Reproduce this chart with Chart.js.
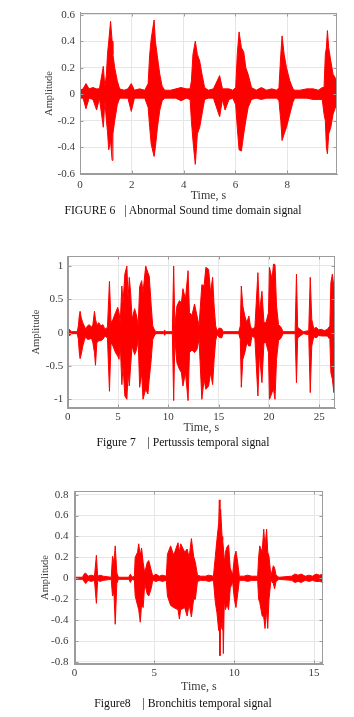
<!DOCTYPE html>
<html>
<head>
<meta charset="utf-8">
<script src="https://cdn.jsdelivr.net/npm/chart.js@4.4.1/dist/chart.umd.min.js"></script>
<style>
body { margin: 0; background: #fff; width: 354px; height: 717px; position: relative; overflow: hidden; font-family: "Liberation Serif", serif; }
.box { position: absolute; left: 0; width: 354px; }
.cap { position: absolute; left: 0; width: 366px; text-align: center; font-size: 11.7px; line-height: 1; white-space: pre; color: #111; }
</style>
</head>
<body>
<div class="box" style="top:0;height:205px"><canvas id="c1" width="354" height="205"></canvas></div>
<div class="cap" style="top:205px">FIGURE 6   | Abnormal Sound time domain signal</div>
<div class="box" style="top:240px;height:200px"><canvas id="c2" width="354" height="200"></canvas></div>
<div class="cap" style="top:437px">Figure 7    | Pertussis temporal signal</div>
<div class="box" style="top:470px;height:225px"><canvas id="c3" width="354" height="225"></canvas></div>
<div class="cap" style="top:698px">Figure8    | Bronchitis temporal signal</div>
<script>
// envelope of each recording: time (s), upper and lower amplitude

// figure 6 - abnormal sound
const time6 = [0.00, 0.12, 0.23, 0.35, 0.50, 0.64, 0.75, 0.90, 0.96, 1.02, 1.06, 1.11, 1.18, 1.24, 1.27, 1.34, 1.44, 1.53,
  1.70, 1.85, 1.98, 2.10, 2.30, 2.50, 2.63, 2.69, 2.75, 2.86, 2.91, 2.99, 3.08, 3.17, 3.27,
  3.50, 3.70, 3.90, 4.10, 4.25, 4.30, 4.36, 4.45, 4.53, 4.62, 4.71, 4.81,
  4.95, 5.15, 5.39, 5.50, 5.60, 5.75, 5.90, 6.01, 6.07, 6.14, 6.23, 6.32, 6.40, 6.49, 6.62,
  6.80, 7.00, 7.20, 7.40, 7.60, 7.68, 7.75, 7.80, 7.88, 7.97, 8.10, 8.22, 8.29,
  8.50, 8.75, 9.00, 9.20, 9.35, 9.42, 9.47, 9.51, 9.55, 9.60, 9.68, 9.77, 9.86, 9.92];
const upper6 = [0.03, 0.04, 0.08, 0.04, 0.05, 0.04, 0.04, 0.21, 0.05, 0.15, 0.30, 0.40, 0.55, 0.40, 0.30, 0.20, 0.10, 0.04,
  0.03, 0.04, 0.08, 0.03, 0.04, 0.03, 0.08, 0.30, 0.42, 0.56, 0.40, 0.28, 0.15, 0.06, 0.03,
  0.03, 0.04, 0.05, 0.04, 0.04, 0.10, 0.30, 0.40, 0.30, 0.25, 0.15, 0.05,
  0.03, 0.04, 0.14, 0.04, 0.04, 0.04, 0.03, 0.05, 0.30, 0.47, 0.35, 0.32, 0.20, 0.15, 0.05,
  0.03, 0.05, 0.03, 0.04, 0.03, 0.05, 0.30, 0.44, 0.30, 0.20, 0.10, 0.04, 0.03,
  0.03, 0.04, 0.04, 0.03, 0.05, 0.05, 0.30, 0.35, 0.48, 0.35, 0.25, 0.15, 0.12, 0.10];
const lower6 = [-0.03, -0.03, -0.11, -0.03, -0.04, -0.12, -0.03, -0.25, -0.05, -0.20, -0.28, -0.42, -0.35, -0.50, -0.30, -0.20, -0.08, -0.03,
  -0.03, -0.03, -0.13, -0.03, -0.03, -0.03, -0.10, -0.25, -0.38, -0.47, -0.40, -0.25, -0.12, -0.05, -0.03,
  -0.03, -0.03, -0.05, -0.03, -0.04, -0.20, -0.35, -0.53, -0.30, -0.25, -0.15, -0.04,
  -0.03, -0.03, -0.17, -0.04, -0.12, -0.04, -0.03, -0.08, -0.25, -0.42, -0.43, -0.30, -0.20, -0.10, -0.04,
  -0.03, -0.04, -0.03, -0.03, -0.03, -0.05, -0.20, -0.35, -0.30, -0.25, -0.15, -0.06, -0.03,
  -0.03, -0.03, -0.04, -0.04, -0.04, -0.15, -0.20, -0.40, -0.45, -0.30, -0.25, -0.15, -0.10, -0.10];
const ticks6 = [0, 2, 4, 6, 8];

// figure 7 - pertussis
const time7 = [0.00, 0.17, 0.35, 0.95, 1.06, 1.15, 1.23, 1.35, 1.50, 1.65, 1.80, 1.95, 2.15, 2.35, 2.50, 2.66, 2.76, 2.90,
  3.10, 3.30, 3.50, 3.70, 3.95, 4.15, 4.30, 4.50, 4.75, 4.97, 5.10, 5.22, 5.38, 5.50, 5.68, 5.88, 6.00, 6.12, 6.25, 6.40,
  6.65, 6.85, 7.00, 7.15, 7.35, 7.48, 7.75, 7.97, 8.10, 8.30, 8.45, 8.60, 8.75, 9.55, 9.63, 9.72, 10.40, 10.53, 10.65,
  10.85, 11.10, 11.30, 11.45, 11.70, 11.96, 12.10, 12.35, 12.60, 12.85, 13.05, 13.33, 13.55, 13.73, 14.00, 14.20, 14.40,
  14.55, 14.70, 14.85, 15.05, 15.30, 15.45, 17.00, 17.15, 17.25, 17.40, 17.60, 17.80, 18.00, 18.15, 18.30, 18.60, 18.90,
  19.05, 19.30, 19.50, 19.70, 19.95, 20.05, 20.30, 20.45, 20.60, 20.75, 20.95, 21.20, 21.40, 22.60, 22.73, 22.85, 23.10,
  23.40, 23.95, 24.10, 24.25, 24.45, 24.70, 24.95, 25.20, 25.50, 25.80, 26.05, 26.15, 26.30, 26.45, 26.56];
const upper7 = [0.015, 0.05, 0.015, 0.015, 0.10, 0.25, 0.32, 0.22, 0.15, 0.10, 0.05, 0.10, 0.12, 0.08, 0.12, 0.32, 0.20, 0.12,
  0.15, 0.10, 0.12, 0.05, 0.08, 0.77, 0.15, 0.20, 0.30, 0.38, 0.30, 0.15, 0.70, 0.45, 0.88, 1.00, 0.50, 0.83, 0.60, 0.20,
  0.36, 0.25, 0.10, 0.69, 0.78, 0.60, 1.00, 0.90, 0.85, 0.40, 0.10, 0.05, 0.015, 0.015, 0.04, 0.015, 0.015, 1.00, 0.10,
  0.40, 0.48, 0.45, 0.66, 0.50, 0.93, 0.30, 0.26, 0.43, 0.25, 0.10, 0.72, 0.70, 0.98, 0.95, 0.60, 0.83,
  0.40, 0.10, 0.03, 0.07, 0.06, 0.015, 0.015, 0.10, 0.70, 0.40, 0.25, 0.15, 0.25, 0.10, 0.05, 0.08, 0.90,
  0.30, 0.62, 0.15, 0.15, 0.30, 0.98, 0.80, 1.03, 1.02, 0.40, 0.12, 0.08, 0.015, 0.015, 0.88, 0.08, 0.05,
  0.015, 0.03, 0.83, 0.20, 0.06, 0.08, 0.04, 0.05, 0.03, 0.05, 0.10, 0.75, 0.88, 0.68, 0.70];
const lower7 = [-0.015, -0.05, -0.015, -0.015, -0.10, -0.30, -0.39, -0.32, -0.20, -0.12, -0.05, -0.10, -0.10, -0.08, -0.15, -0.30, -0.49, -0.15,
  -0.12, -0.12, -0.10, -0.05, -0.08, -0.88, -0.15, -0.20, -0.30, -0.35, -0.40, -0.15, -0.78, -0.50, -0.95, -1.00, -0.60, -0.80, -0.50, -0.20,
  -0.33, -0.25, -0.10, -0.82, -0.60, -1.00, -0.85, -0.92, -0.70, -0.40, -0.10, -0.05, -0.015, -0.015, -0.04, -0.015, -0.015, -1.02, -0.10,
  -0.45, -0.55, -0.60, -0.80, -0.60, -1.02, -0.30, -0.26, -0.30, -0.25, -0.10, -1.00, -0.70, -0.85, -0.80, -0.60, -0.78,
  -0.40, -0.12, -0.03, -0.07, -0.08, -0.015, -0.015, -0.10, -0.82, -0.40, -0.30, -0.15, -0.20, -0.20, -0.05, -0.08, -0.95,
  -0.30, -0.75, -0.15, -0.15, -0.30, -1.00, -0.90, -0.85, -1.00, -0.40, -0.12, -0.08, -0.015, -0.015, -0.75, -0.08, -0.05,
  -0.015, -0.03, -0.90, -0.20, -0.06, -0.08, -0.04, -0.05, -0.05, -0.05, -0.10, -0.60, -0.70, -0.90, -0.60];
const ticks7 = [0, 5, 10, 15, 20, 25];

// figure 8 - bronchitis
const time8 = [0.00, 0.50, 0.60, 0.70, 0.85, 1.05, 1.25, 1.37, 1.45, 1.60, 1.80, 2.30, 2.38, 2.47, 2.55, 2.65, 2.75,
  3.40, 3.50, 3.60, 3.75, 3.80, 3.95, 4.02, 4.12, 4.20, 4.30, 4.40, 4.55, 4.65, 4.80, 4.90, 5.10, 5.30, 5.50, 5.75,
  5.82, 6.02, 6.21, 6.48, 6.57, 6.65, 6.90, 7.05, 7.18, 7.32, 7.46, 7.57, 7.70, 7.90, 8.20, 8.40, 8.70,
  8.82, 8.92, 9.03, 9.07, 9.11, 9.15, 9.24, 9.28, 9.32, 9.38, 9.45, 9.55, 9.65, 9.75, 9.90, 10.01, 10.11, 10.22, 10.32,
  10.60, 10.84, 11.10, 11.47, 11.53, 11.60, 11.75, 11.85, 11.93, 12.03, 12.10, 12.18, 12.30, 12.45, 12.53, 12.62, 12.80,
  13.60, 13.80, 14.00, 14.20, 14.45, 14.70, 14.90, 15.12, 15.35, 15.58];
const upper8 = [0.01, 0.01, 0.04, 0.05, 0.02, 0.03, 0.02, 0.22, 0.02, 0.03, 0.02, 0.01, 0.21, 0.15, 0.31, 0.05, 0.01,
  0.01, 0.04, 0.01, 0.02, 0.20, 0.25, 0.33, 0.22, 0.29, 0.15, 0.05, 0.15, 0.17, 0.08, 0.02, 0.04, 0.02, 0.03, 0.02,
  0.23, 0.31, 0.22, 0.34, 0.25, 0.33, 0.25, 0.28, 0.20, 0.38, 0.21, 0.15, 0.03, 0.02, 0.02, 0.03, 0.02,
  0.21, 0.37, 0.53, 0.75, 0.50, 0.66, 0.40, 0.36, 0.30, 0.15, 0.25, 0.30, 0.32, 0.10, 0.03, 0.20, 0.26, 0.15, 0.02,
  0.02, 0.03, 0.02, 0.02, 0.20, 0.31, 0.25, 0.47, 0.30, 0.47, 0.25, 0.21, 0.02, 0.12, 0.10, 0.03, 0.01,
  0.02, 0.04, 0.03, 0.04, 0.02, 0.03, 0.02, 0.04, 0.03, 0.04];
const lower8 = [-0.01, -0.01, -0.03, -0.05, -0.02, -0.03, -0.02, -0.24, -0.02, -0.03, -0.02, -0.01, -0.17, -0.14, -0.44, -0.05, -0.01,
  -0.01, -0.04, -0.01, -0.02, -0.17, -0.26, -0.30, -0.42, -0.25, -0.28, -0.05, -0.15, -0.17, -0.10, -0.02, -0.03, -0.02, -0.03, -0.02,
  -0.17, -0.26, -0.28, -0.30, -0.39, -0.30, -0.28, -0.36, -0.25, -0.37, -0.20, -0.20, -0.03, -0.02, -0.02, -0.03, -0.02,
  -0.23, -0.33, -0.50, -0.45, -0.74, -0.40, -0.49, -0.35, -0.72, -0.20, -0.30, -0.25, -0.30, -0.10, -0.03, -0.20, -0.28, -0.15, -0.02,
  -0.02, -0.03, -0.02, -0.02, -0.20, -0.23, -0.36, -0.37, -0.48, -0.30, -0.48, -0.20, -0.02, -0.05, -0.10, -0.03, -0.01,
  -0.02, -0.04, -0.03, -0.04, -0.02, -0.03, -0.02, -0.03, -0.03, -0.04];
const ticks8 = [0, 5, 10, 15];

const serif = '"Liberation Serif", "Times New Roman", serif';
const gridColor = '#e6e6e6';
const frameColor = '#9c9c9c';
const textColor = '#3a3a3a';

// matlab style box with small inward tick marks
const boxPlugin = {
  id: 'box',
  afterDatasetsDraw(chart) {
    const { ctx, chartArea: a, scales } = chart;
    const l = Math.round(a.left) + 0.5, r = Math.round(a.right) - 0.5;
    const t = Math.round(a.top) + 0.5, b = Math.round(a.bottom) - 0.5;
    ctx.save();
    ctx.strokeStyle = frameColor;
    ctx.lineWidth = 1;
    ctx.strokeRect(l, t, r - l, b - t);
    ctx.beginPath();
    scales.x.ticks.forEach(tk => {
      const px = Math.round(scales.x.getPixelForValue(tk.value)) + 0.5;
      ctx.moveTo(px, b); ctx.lineTo(px, b - 3);
      ctx.moveTo(px, t); ctx.lineTo(px, t + 3);
    });
    scales.y.ticks.forEach(tk => {
      const py = Math.round(scales.y.getPixelForValue(tk.value)) + 0.5;
      ctx.moveTo(l, py); ctx.lineTo(l + 3, py);
      ctx.moveTo(r, py); ctx.lineTo(r - 3, py);
    });
    ctx.stroke();
    ctx.restore();
  }
};

function makeChart(id, time, upper, lower, xTicks, lay) {
  const top = time.map((t, i) => ({ x: t, y: upper[i] }));
  const bottom = time.map((t, i) => ({ x: t, y: lower[i] }));
  return new Chart(document.getElementById(id), {
    type: 'line',
    data: {
      datasets: [
        { data: top, borderColor: '#ff0000', backgroundColor: '#ff0000', borderWidth: 1, pointRadius: 0, tension: 0, fill: '+1' },
        { data: bottom, borderColor: '#ff0000', backgroundColor: '#ff0000', borderWidth: 1, pointRadius: 0, tension: 0, fill: false }
      ]
    },
    options: {
      responsive: false,
      animation: false,
      devicePixelRatio: 1,
      layout: { padding: { left: 0, right: lay.right, top: lay.top, bottom: 0 } },
      plugins: { legend: { display: false }, tooltip: { enabled: false } },
      scales: {
        x: {
          type: 'linear',
          min: 0,
          max: lay.xmax,
          afterBuildTicks: s => { s.ticks = xTicks.map(v => ({ value: v })); },
          afterFit: s => { s.height = lay.xh; },
          grid: { color: gridColor, drawTicks: false },
          border: { color: frameColor },
          ticks: { padding: lay.xpad, color: textColor, font: { family: serif, size: 11 }, maxRotation: 0, callback: v => String(v) },
          title: { display: true, text: 'Time, s', color: textColor, font: { family: serif, size: 12 }, padding: { top: 0, bottom: lay.xtp } }
        },
        y: {
          min: lay.ymin,
          max: lay.ymax,
          ticks: { stepSize: lay.ystep, includeBounds: false, padding: lay.ypad, color: textColor, font: { family: serif, size: 11 },
            callback: v => String(Math.round(v * 10) / 10) },
          afterFit: s => { s.width = lay.left; },
          grid: { color: gridColor, drawTicks: false },
          border: { color: frameColor },
          title: { display: true, text: 'Amplitude', color: textColor, font: { family: serif, size: 10.5 }, padding: { top: lay.ytp, bottom: 0 } }
        }
      }
    },
    plugins: [boxPlugin]
  });
}

makeChart('c1', time6, upper6, lower6, ticks6,
  { left: 80, right: 17, top: 12.7, xh: 30.7, xmax: 9.92, ymin: -0.605, ymax: 0.615, ystep: 0.2, xpad: 4, ypad: 5, xtp: 1.8, ytp: 42.7 });
makeChart('c2', time7, upper7, lower7, ticks7,
  { left: 67.7, right: 19, top: 16, xh: 31.7, xmax: 26.56, ymin: -1.135, ymax: 1.15, ystep: 0.5, xpad: 2, ypad: 4.5, xtp: 5.1, ytp: 30.4 });
makeChart('c3', time8, upper8, lower8, ticks8,
  { left: 74.5, right: 30.7, top: 21, xh: 31, xmax: 15.58, ymin: -0.82, ymax: 0.835, ystep: 0.2, xpad: 3, ypad: 6, xtp: 1.1, ytp: 38.7 });
</script>
</body>
</html>
